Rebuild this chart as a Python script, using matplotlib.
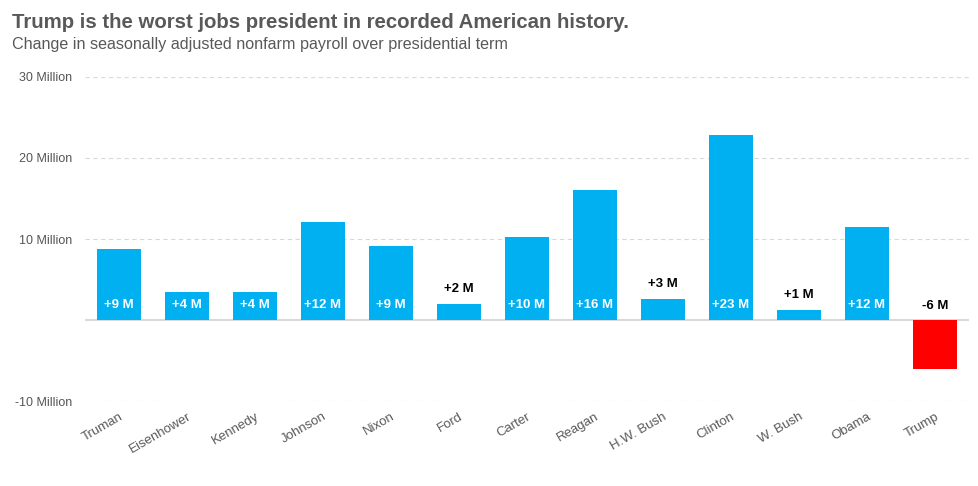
import matplotlib
matplotlib.use('Agg')
from matplotlib import pyplot as plt

plt.rcParams['font.family'] = ['Liberation Sans', 'DejaVu Sans']

# Data (millions of jobs)
presidents = ['Truman', 'Eisenhower', 'Kennedy', 'Johnson', 'Nixon', 'Ford', 'Carter',
              'Reagan', 'H.W. Bush', 'Clinton', 'W. Bush', 'Obama', 'Trump']
job_change = [8.77, 3.46, 3.46, 12.1, 9.14, 1.98, 10.25, 16.05, 2.6, 22.84, 1.23, 11.48, -6.05]
bar_labels = ['+9 M', '+4 M', '+4 M', '+12 M', '+9 M', '+2 M', '+10 M', '+16 M',
              '+3 M', '+23 M', '+1 M', '+12 M', '-6 M']
y_ticks = [-10, 10, 20, 30]
y_tick_labels = ['-10 Million', '10 Million', '20 Million', '30 Million']

fig = plt.figure(figsize=(9.79, 4.86), dpi=100)
ax = fig.add_axes([85 / 979, 85 / 486, 884 / 979, 324 / 486])

colors = ['#ff0000' if v < 0 else '#00b0f0' for v in job_change]
x = list(range(len(presidents)))
ax.bar(x, job_change, width=0.66, color=colors, zorder=3)

# Value labels: inside for big bars, above for small / negative
for i, (v, lab) in enumerate(zip(job_change, bar_labels)):
    if v > 3:
        ax.annotate(lab, (i, 0), xytext=(0, 11), textcoords='offset points',
                    ha='center', va='center', color='white', fontsize=9.5,
                    fontweight='bold', zorder=4)
    elif v > 0:
        ax.annotate(lab, (i, v), xytext=(0, 11), textcoords='offset points',
                    ha='center', va='center', color='black', fontsize=9.5,
                    fontweight='bold', zorder=4)
    else:
        ax.annotate(lab, (i, 0), xytext=(0, 10), textcoords='offset points',
                    ha='center', va='center', color='black', fontsize=9.5,
                    fontweight='bold', zorder=4)

ax.set_xlim(-0.5, len(presidents) - 0.5)
ax.set_ylim(-10, 30)

# Gridlines
for t in y_ticks:
    ax.axhline(t, color='#d9d9d9', lw=0.8, ls=(0, (4, 3)), zorder=1)
ax.axhline(0, color='#d9d9d9', lw=1.5, zorder=2)

ax.set_yticks(y_ticks)
ax.set_yticklabels(y_tick_labels, fontsize=9, color='#555555')
ax.tick_params(axis='y', length=0, pad=9)
ax.set_xticks(x)
ax.set_xticklabels(presidents, rotation=30, ha='right', rotation_mode='anchor',
                   fontsize=9.5, color='#595959')
ax.tick_params(axis='x', length=0, pad=7)

for s in ax.spines.values():
    s.set_visible(False)

fig.text(12 / 979, 1 - 22 / 486, 'Trump is the worst jobs president in recorded American history.',
         fontsize=14.7, fontweight='bold', color='#595959', va='center', ha='left')
fig.text(12 / 979, 1 - 45 / 486, 'Change in seasonally adjusted nonfarm payroll over presidential term',
         fontsize=11.6, color='#595959', va='center', ha='left')

plt.savefig('out.png', dpi=100)
